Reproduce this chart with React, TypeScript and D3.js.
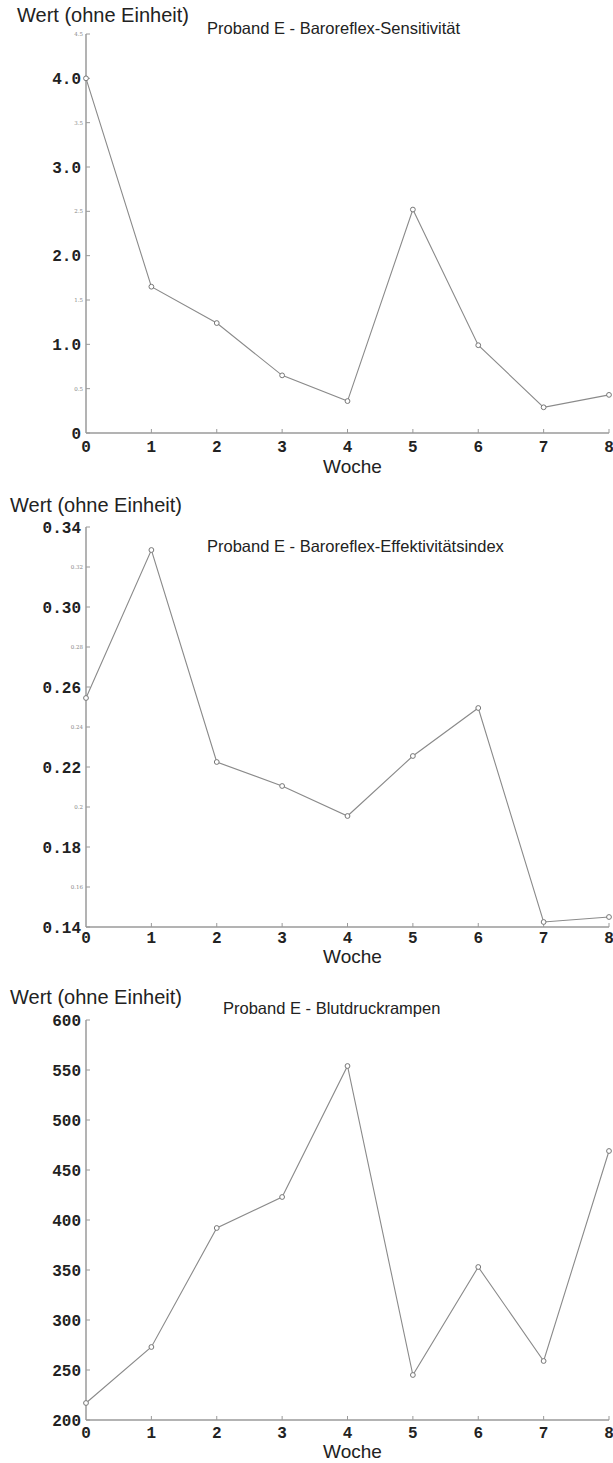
import React from "react";
import * as d3 from "d3";

const weeks = [0, 1, 2, 3, 4, 5, 6, 7, 8];
const sensitivity = [4.0, 1.65, 1.24, 0.65, 0.36, 2.52, 0.99, 0.29, 0.43];
const effectivity = [0.2545, 0.3285, 0.2225, 0.2105, 0.1955, 0.2255, 0.2495, 0.1425, 0.145];
const ramps = [217, 273, 392, 423, 554, 245, 353, 259, 469];

const titles = [
  "Proband E - Baroreflex-Sensitivität",
  "Proband E - Baroreflex-Effektivitätsindex",
  "Proband E - Blutdruckrampen",
];
const yLabel = "Wert (ohne Einheit)";
const xLabel = "Woche";

const majors1 = [0, 1, 2, 3, 4];
const majorLabels1 = ["0", "1.0", "2.0", "3.0", "4.0"];
const minors1 = [0.5, 1.5, 2.5, 3.5, 4.5];
const minorLabels1 = ["0.5", "1.5", "2.5", "3.5", "4.5"];

const majors2 = [0.14, 0.18, 0.22, 0.26, 0.3, 0.34];
const majorLabels2 = ["0.14", "0.18", "0.22", "0.26", "0.30", "0.34"];
const minors2 = [0.16, 0.2, 0.24, 0.28, 0.32];
const minorLabels2 = ["0.16", "0.2", "0.24", "0.28", "0.32"];

const majors3 = [200, 250, 300, 350, 400, 450, 500, 550, 600];
const majorLabels3 = ["200", "250", "300", "350", "400", "450", "500", "550", "600"];

type Spec = {
  values: number[];
  domain: [number, number];
  majors: number[];
  majorLabels: string[];
  minors: number[];
  minorLabels: string[];
  title: string;
  top: number;
  bottom: number;
  wertX: number;
  wertY: number;
  titleX: number;
  titleY: number;
  xLabY: number;
  wocheY: number;
};

const specs: Spec[] = [
  {
    values: sensitivity, domain: [0, 4.5], majors: majors1, majorLabels: majorLabels1,
    minors: minors1, minorLabels: minorLabels1, title: titles[0],
    top: 34, bottom: 433, wertX: 17, wertY: 22, titleX: 207, titleY: 34, xLabY: 452, wocheY: 473,
  },
  {
    values: effectivity, domain: [0.14, 0.34], majors: majors2, majorLabels: majorLabels2,
    minors: minors2, minorLabels: minorLabels2, title: titles[1],
    top: 527, bottom: 927, wertX: 10, wertY: 512, titleX: 207, titleY: 552, xLabY: 943, wocheY: 963,
  },
  {
    values: ramps, domain: [200, 600], majors: majors3, majorLabels: majorLabels3,
    minors: [], minorLabels: [], title: titles[2],
    top: 1020, bottom: 1420, wertX: 10, wertY: 1004, titleX: 223, titleY: 1014, xLabY: 1438, wocheY: 1458,
  },
];

const LEFT = 86;
const RIGHT = 609;
const AXIS = "#9a9a9a";
const LINE = "#8a8a8a";

function Panel({ s }: { s: Spec }) {
  const x = d3.scaleLinear().domain([0, 8]).range([LEFT, RIGHT]);
  const y = d3.scaleLinear().domain(s.domain).range([s.bottom, s.top]);
  const line = d3
    .line<number>()
    .x((_, i) => x(weeks[i]))
    .y((v) => y(v));
  return (
    <g>
      <text x={s.wertX} y={s.wertY} fontFamily="Liberation Sans, Arial, sans-serif" fontSize={20} fill="#222">
        {yLabel}
      </text>
      <text x={s.titleX} y={s.titleY} fontFamily="Liberation Sans, Arial, sans-serif" fontSize={16.5} fill="#222">
        {s.title}
      </text>
      {/* axes */}
      <line x1={LEFT} x2={LEFT} y1={s.top} y2={s.bottom} stroke={AXIS} strokeWidth={1.5} />
      <line x1={LEFT} x2={RIGHT} y1={s.bottom} y2={s.bottom} stroke={AXIS} strokeWidth={1.5} />
      {s.majors.map((v, i) => (
        <g key={"M" + i}>
          <line x1={LEFT} x2={LEFT + 4} y1={y(v)} y2={y(v)} stroke={AXIS} strokeWidth={1} />
          <text
            x={LEFT - 5}
            y={y(v)}
            dy="0.35em"
            textAnchor="end"
            fontFamily="Liberation Mono, Courier New, monospace"
            fontWeight="bold"
            fontSize={16}
            fill="#222"
          >
            {s.majorLabels[i]}
          </text>
        </g>
      ))}
      {s.minors.map((v, i) => (
        <g key={"m" + i}>
          <line x1={LEFT} x2={LEFT + 4} y1={y(v)} y2={y(v)} stroke={AXIS} strokeWidth={1} />
          <text
            x={LEFT - 3}
            y={y(v)}
            dy="0.35em"
            textAnchor="end"
            fontFamily="DejaVu Serif, serif"
            fontSize={5.5}
            fill="#888"
          >
            {s.minorLabels[i]}
          </text>
        </g>
      ))}
      {weeks.map((w) => (
        <g key={"x" + w}>
          {w > 0 && (
            <line x1={x(w)} x2={x(w)} y1={s.bottom} y2={s.bottom - 4} stroke={AXIS} strokeWidth={1} />
          )}
          <text
            x={x(w)}
            y={s.xLabY}
            textAnchor="middle"
            fontFamily="Liberation Mono, Courier New, monospace"
            fontWeight="bold"
            fontSize={16}
            fill="#222"
          >
            {String(w)}
          </text>
        </g>
      ))}
      <text
        x={(LEFT + RIGHT) / 2 + 5}
        y={s.wocheY}
        textAnchor="middle"
        fontFamily="Liberation Sans, Arial, sans-serif"
        fontSize={19}
        fill="#222"
      >
        {xLabel}
      </text>
      <path d={line(s.values) || ""} fill="none" stroke={LINE} strokeWidth={1.1} />
      {s.values.map((v, i) => (
        <circle key={"c" + i} cx={x(weeks[i])} cy={y(v)} r={2.4} fill="white" stroke="#777" strokeWidth={1} />
      ))}
    </g>
  );
}

export default function App() {
  return (
    <svg
      width={613}
      height={1463}
      style={{ position: "absolute", left: 0, top: 0, background: "white" }}
    >
      <rect width={613} height={1463} fill="white" />
      {specs.map((s, i) => (
        <Panel key={i} s={s} />
      ))}
    </svg>
  );
}
